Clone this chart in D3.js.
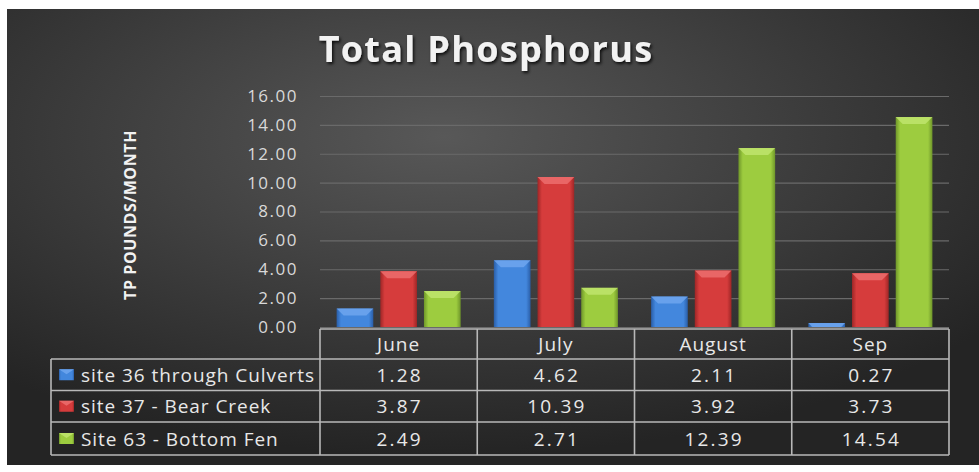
<!DOCTYPE html>
<html>
<head>
<meta charset="utf-8">
<script src="https://cdn.jsdelivr.net/npm/d3@7"></script>
<style>
  body { margin: 0; background: #fff; }
  text { font-family: "Open Sans", sans-serif; }
</style>
</head>
<body>
<svg width="979" height="472"></svg>
<script>
const months = ['June', 'July', 'August', 'Sep'];
const seriesNames = ['site 36 through Culverts', 'site 37 - Bear Creek', 'Site 63 - Bottom Fen'];
const site36 = [1.28, 4.62, 2.11, 0.27];
const site37 = [3.87, 10.39, 3.92, 3.73];
const site63 = [2.49, 2.71, 12.39, 14.54];
const yTicks = [0, 2, 4, 6, 8, 10, 12, 14, 16];

const seriesValues = [site36, site37, site63];
const colors = [
  { mid: '#4387dd', edge: '#2a5ea8', top: '#6fa6ee' },
  { mid: '#d63c3c', edge: '#9e2626', top: '#ec6d6d' },
  { mid: '#9dcc3f', edge: '#6f962a', top: '#c0e46d' }
];

const svg = d3.select('svg');
const defs = svg.append('defs');

// background panel
const bg = defs.append('radialGradient').attr('id', 'bg')
  .attr('cx', '45%').attr('cy', '28%').attr('r', '70%');
bg.append('stop').attr('offset', '0%').attr('stop-color', '#585858');
bg.append('stop').attr('offset', '100%').attr('stop-color', '#242424');

svg.append('rect')
  .attr('x', 7).attr('y', 9)
  .attr('width', 972).attr('height', 456)
  .attr('fill', 'url(#bg)');

const shadow = defs.append('filter').attr('id', 'shadow');
shadow.append('feDropShadow')
  .attr('dx', 1.5).attr('dy', 2).attr('stdDeviation', 1.5)
  .attr('flood-color', '#000').attr('flood-opacity', 0.8);

colors.forEach((c, i) => {
  const g = defs.append('linearGradient').attr('id', 'bar' + i)
    .attr('x1', '0%').attr('x2', '100%');
  g.append('stop').attr('offset', '0%').attr('stop-color', c.edge);
  g.append('stop').attr('offset', '12%').attr('stop-color', c.mid);
  g.append('stop').attr('offset', '88%').attr('stop-color', c.mid);
  g.append('stop').attr('offset', '100%').attr('stop-color', c.edge);
});

svg.append('text')
  .attr('x', 486).attr('y', 62)
  .attr('text-anchor', 'middle')
  .attr('font-size', '36px')
  .attr('font-weight', 'bold')
  .attr('letter-spacing', '1.3px')
  .attr('fill', '#f2f2f2')
  .attr('filter', 'url(#shadow)')
  .text('Total Phosphorus');

const plotLeft = 320, plotRight = 949, plotTop = 96, plotBottom = 327;

const x0 = d3.scaleBand().domain(months).range([plotLeft, plotRight]);
const x1 = d3.scaleBand().domain(d3.range(3))
  .range([0, x0.bandwidth()]).paddingInner(0.16).paddingOuter(0.38);
const y = d3.scaleLinear().domain([0, 16]).range([plotBottom, plotTop]);

// gridlines + tick labels
const yAxis = svg.append('g')
  .attr('transform', `translate(${plotLeft},0)`)
  .call(d3.axisLeft(y).tickValues(yTicks).tickFormat(d3.format('.2f'))
    .tickSize(-(plotRight - plotLeft)).tickPadding(22));
yAxis.select('.domain').remove();
yAxis.selectAll('.tick line').attr('stroke', '#6a6a6a').attr('stroke-width', 1.2);
yAxis.selectAll('.tick text')
  .attr('fill', '#d9d9d9')
  .attr('font-size', '17px')
  .attr('letter-spacing', '1.5px')
  .attr('font-family', '"Open Sans", sans-serif');

svg.append('text')
  .attr('transform', 'translate(136,215) rotate(-90)')
  .attr('text-anchor', 'middle')
  .attr('font-size', '16px')
  .attr('font-weight', 'bold')
  .attr('letter-spacing', '0.6px')
  .attr('fill', '#f2f2f2')
  .text('TP POUNDS/MONTH');

// bars
const bars = [];
seriesValues.forEach((vals, s) => {
  vals.forEach((v, m) => bars.push({ s, m: months[m], v }));
});

const barG = svg.append('g');
const bw = x1.bandwidth();
const bevel = 7;

const groups = barG.selectAll('g.bar').data(bars).enter().append('g').attr('class', 'bar');
groups.append('rect')
  .attr('x', d => x0(d.m) + x1(d.s))
  .attr('y', d => y(d.v))
  .attr('width', bw)
  .attr('height', d => plotBottom - y(d.v))
  .attr('fill', d => 'url(#bar' + d.s + ')');
groups.append('path')
  .attr('d', d => {
    const xa = x0(d.m) + x1(d.s);
    const ya = y(d.v);
    const h = Math.min(bevel, plotBottom - ya);
    return `M${xa},${ya}L${xa + bw},${ya}L${xa + bw - h},${ya + h}L${xa + h},${ya + h}Z`;
  })
  .attr('fill', d => colors[d.s].top)
  .attr('opacity', 0.85);

// data table
const rowY = [329, 359, 390.5, 422, 455];
const tableLeft = 51;
const table = svg.append('g').attr('stroke', '#b8b8b8').attr('stroke-width', 1.6).attr('fill', 'none');

table.append('line').attr('x1', plotLeft).attr('x2', plotRight).attr('y1', rowY[0]).attr('y2', rowY[0]);
rowY.slice(1).forEach(yv => {
  table.append('line').attr('x1', tableLeft).attr('x2', plotRight).attr('y1', yv).attr('y2', yv);
});
table.append('line').attr('x1', tableLeft).attr('x2', tableLeft).attr('y1', rowY[1]).attr('y2', rowY[4]);
months.map(m => x0(m)).concat([plotRight]).forEach(xv => {
  table.append('line').attr('x1', xv).attr('x2', xv).attr('y1', rowY[0]).attr('y2', rowY[4]);
});

const txt = svg.append('g')
  .attr('fill', '#e8e8e8')
  .attr('font-size', '19px');

months.forEach(m => {
  txt.append('text')
    .attr('x', x0(m) + x0.bandwidth() / 2)
    .attr('y', (rowY[0] + rowY[1]) / 2 + 7)
    .attr('text-anchor', 'middle')
    .attr('letter-spacing', '1px')
    .text(m);
});

seriesValues.forEach((vals, s) => {
  const cy = (rowY[s + 1] + rowY[s + 2]) / 2;
  // legend key
  const kx = 59, ky = cy - 5.5;
  svg.append('rect').attr('x', kx).attr('y', ky).attr('width', 15).attr('height', 11)
    .attr('fill', 'url(#bar' + s + ')');
  svg.append('path')
    .attr('d', `M${kx},${ky}L${kx + 15},${ky}L${kx + 7.5},${ky + 5}Z`)
    .attr('fill', colors[s].top).attr('opacity', 0.85);
  txt.append('text')
    .attr('x', 81).attr('y', cy + 7)
    .attr('letter-spacing', '0.95px')
    .text(seriesNames[s]);
  vals.forEach((v, m) => {
    txt.append('text')
      .attr('x', x0(months[m]) + x0.bandwidth() / 2 + 1)
      .attr('y', cy + 7)
      .attr('text-anchor', 'middle')
      .attr('letter-spacing', '2.2px')
      .text(d3.format('.2f')(v));
  });
});
</script>
</body>
</html>
